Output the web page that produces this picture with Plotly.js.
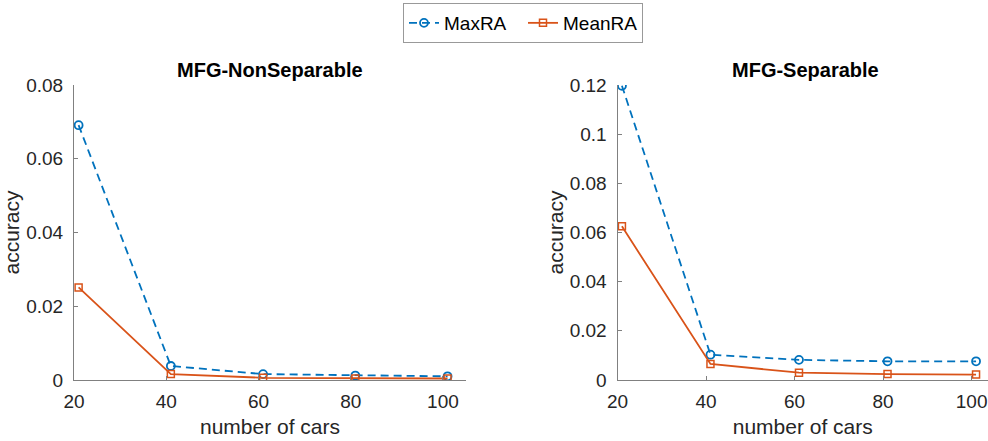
<!DOCTYPE html>
<html>
<head>
<meta charset="utf-8">
<script src="https://cdn.plot.ly/plotly-3.0.1.min.js"></script>
<style>html,body{margin:0;padding:0;background:#fff;}#chart{width:988px;height:441px;}</style>
</head>
<body>
<div id="chart"></div>
<script>
// Data
const cars = [21, 41, 61, 81, 101];
const nonSepMaxRA  = [0.0691, 0.0038, 0.0016, 0.0012, 0.0010];
const nonSepMeanRA = [0.0251, 0.0016, 0.0006, 0.0004, 0.0004];
const sepMaxRA  = [0.1197, 0.0103, 0.0082, 0.0076, 0.0076];
const sepMeanRA = [0.0625, 0.0065, 0.0030, 0.0024, 0.0022];
const seriesNames = ["MaxRA", "MeanRA"];
const subplotTitles = ["MFG-NonSeparable", "MFG-Separable"];
const xTicks = [20, 40, 60, 80, 100];
const yTicksLeft = [0, 0.02, 0.04, 0.06, 0.08];
const yTicksRight = [0, 0.02, 0.04, 0.06, 0.08, 0.1, 0.12];

const blue = "#0072BD", orange = "#D95319";
const FONT = "Liberation Sans, Arial, sans-serif";
const textColor = "#262626";
const axisColor = "#808080";

function maxTrace(y, xa, ya, show) {
  return {x: cars, y: y, xaxis: xa, yaxis: ya, name: seriesNames[0], showlegend: show,
    mode: "lines+markers", line: {color: blue, width: 1.8, dash: "8px,5px"},
    marker: {symbol: "circle-open", size: 8, color: blue, line: {width: 1.8, color: blue}}};
}
function meanTrace(y, xa, ya, show) {
  return {x: cars, y: y, xaxis: xa, yaxis: ya, name: seriesNames[1], showlegend: show,
    mode: "lines+markers", line: {color: orange, width: 1.8},
    marker: {symbol: "square-open", size: 7, color: orange, line: {width: 1.5, color: orange}}};
}

const data = [
  maxTrace(nonSepMaxRA, "x", "y", true),
  meanTrace(nonSepMeanRA, "x", "y", true),
  maxTrace(sepMaxRA, "x2", "y2", false),
  meanTrace(sepMeanRA, "x2", "y2", false)
];

const W = 988;
function xAxis(domain, range) {
  return {domain: domain, range: range, tickvals: xTicks, ticktext: xTicks.map(String),
    ticks: "inside", ticklen: 4, tickcolor: axisColor, showline: true, linecolor: axisColor, linewidth: 1,
    showgrid: false, zeroline: false, tickfont: {family: FONT, size: 19, color: textColor},
    ticklabelstandoff: 4,
    title: {text: "number of cars", font: {family: FONT, size: 21, color: textColor}, standoff: 8}};
}
function yAxis(anchor, range, ticks, fmt, standoff) {
  return {anchor: anchor, domain: [0, 1], range: range, tickvals: ticks, ticktext: ticks.map(fmt),
    ticks: "inside", ticklen: 4, tickcolor: axisColor, showline: true, linecolor: axisColor, linewidth: 1,
    showgrid: false, zeroline: false, tickfont: {family: FONT, size: 19, color: textColor},
    ticklabelstandoff: 6,
    title: {text: "accuracy", font: {family: FONT, size: 21, color: textColor}, standoff: standoff}};
}
const fmt = v => v === 0 ? "0" : String(v);

const layout = {
  width: 988, height: 441,
  margin: {l: 0, r: 0, t: 85, b: 61, pad: 0},
  paper_bgcolor: "#fff", plot_bgcolor: "#fff",
  font: {family: FONT, color: textColor},
  xaxis: xAxis([74 / W, 466 / W], [20, 105]),
  yaxis: yAxis("x", [0, 0.08], yTicksLeft, fmt, 8),
  xaxis2: xAxis([617.5 / W, 1], [20, 103.7]),
  yaxis2: yAxis("x2", [0, 0.12], yTicksRight, fmt, 0),
  showlegend: true,
  legend: {orientation: "h", x: 523 / W, xanchor: "center", y: 1 + 82 / 295, yanchor: "top",
    bordercolor: "#999", borderwidth: 1, bgcolor: "#fff", entrywidth: 74,
    font: {family: FONT, size: 19, color: "#000"}},
  annotations: [
    {text: "<b>" + subplotTitles[0] + "</b>", xref: "paper", yref: "paper", x: 270 / W, y: 1 + 15 / 295,
     xanchor: "center", yanchor: "middle", showarrow: false, font: {family: FONT, size: 20, color: "#000"}},
    {text: "<b>" + subplotTitles[1] + "</b>", xref: "paper", yref: "paper", x: 805 / W, y: 1 + 15 / 295,
     xanchor: "center", yanchor: "middle", showarrow: false, font: {family: FONT, size: 20, color: "#000"}}
  ]
};

Plotly.newPlot("chart", data, layout, {staticPlot: true, displayModeBar: false});
</script>
</body>
</html>
